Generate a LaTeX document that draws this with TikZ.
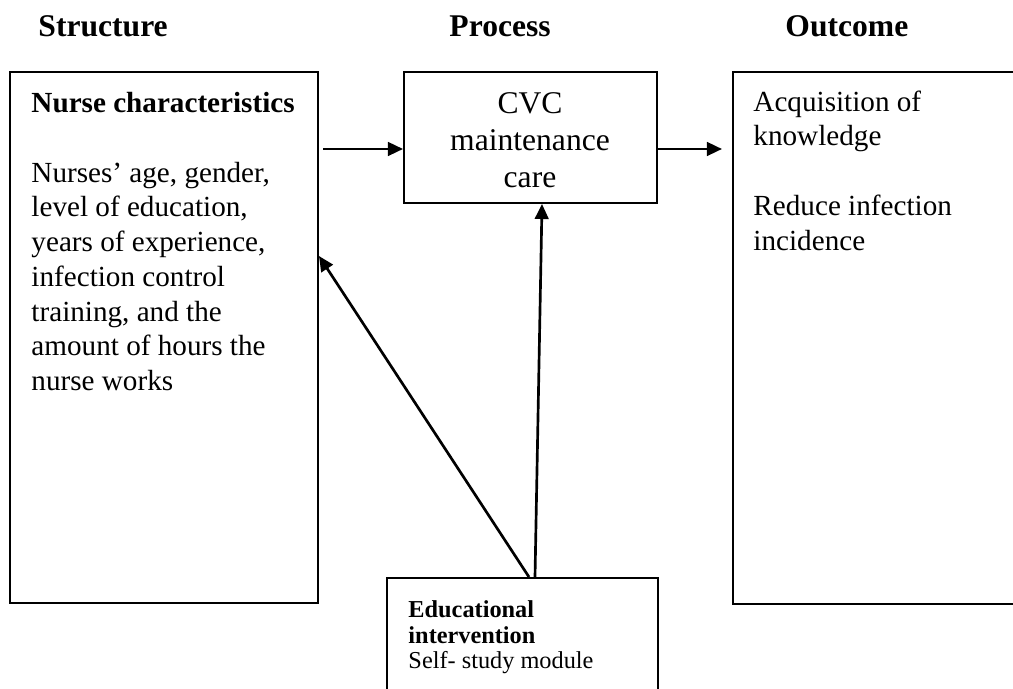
\documentclass[tikz,border=0pt]{standalone}
\usepackage{fontspec}
\setmainfont{Liberation Serif}
\usetikzlibrary{arrows.meta,fit}
\begin{document}
\begin{tikzpicture}[x=0.4115pt,y=-0.4115pt,
  box/.style={draw, line width=0.8pt, inner sep=0pt},
  txt/.style={inner sep=0pt, anchor=north west, align=left, font=\fontsize{12}{14.3}\selectfont},
  head/.style={inner sep=0pt, anchor=base west, font=\fontsize{13}{15}\selectfont\bfseries},
  arr/.style={line width=1.1pt, -{Triangle[length=6.2pt,width=5.6pt]}}]
\useasboundingbox (0,0) rectangle (1013,689);
\clip (0,0) rectangle (1013,689);
% headers
\node[head] (hs) at (38,37) {Structure};
\node[head] (hp) at (449,37) {Process};
\node[head] (ho) at (785,37) {Outcome};
% boxes
\node[box, fit={(10,72) (318,603)}] (L) {};
\node[box, fit={(404,72) (657,203)}] (C) {};
\node[box, fit={(733,72) (1040,604)}] (R) {};
\node[box, fit={(387,578) (658,720)}] (E) {};
% texts
\node[txt] (lt) at (31,92) {\textbf{Nurse characteristics}\\[14.3pt]
  Nurses’ age, gender,\\ level of education,\\ years of experience,\\
  infection control\\ training, and the\\ amount of hours the\\ nurse works};
\node[inner sep=0pt, anchor=north, align=center, font=\fontsize{13}{15.2}\selectfont] (ct) at (530,92) {CVC\\maintenance\\care};
\node[txt] (rt) at (753,90) {Acquisition of\\knowledge\\[14.3pt]Reduce infection\\incidence};
\node[txt, font=\fontsize{10}{10.6}\selectfont] (et) at (408,600) {\textbf{Educational}\\\textbf{intervention}\\Self- study module};
% connectors
\coordinate (a1s) at (323,149);
\coordinate (a2e) at (722,149);
\draw[arr] (a1s) -- (C.west |- a1s);
\draw[arr] (C.east |- a2e) -- (a2e);
\draw[arr] (E.north -| 535,0) -- (C.south -| 542,0);
\draw[arr] (E.north -| 529,0) -- (L.east |- 0,256);
\end{tikzpicture}
\end{document}
